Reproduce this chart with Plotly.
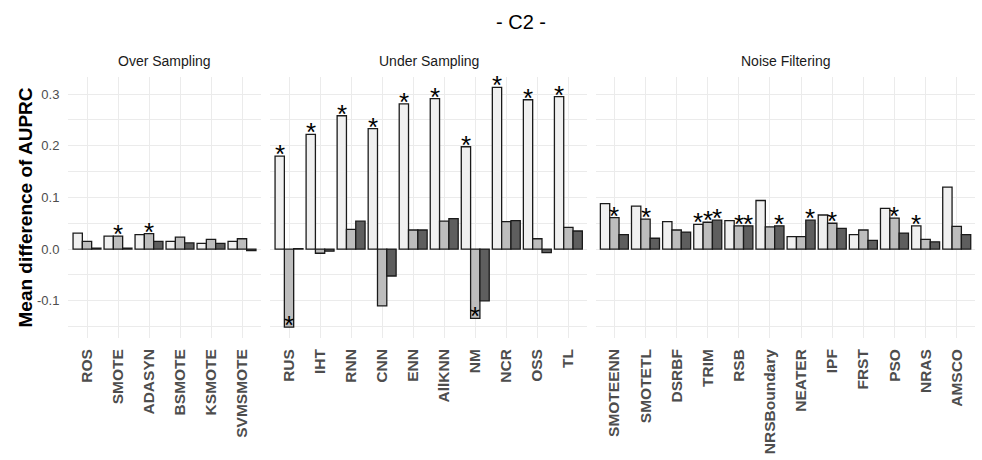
import plotly.graph_objects as go

# ---- data -------------------------------------------------------------
over_methods = ["ROS", "SMOTE", "ADASYN", "BSMOTE", "KSMOTE", "SVMSMOTE"]
over_v1 = [0.031, 0.025, 0.028, 0.015, 0.011, 0.015]
over_v2 = [0.015, 0.025, 0.030, 0.023, 0.019, 0.020]
over_v3 = [0.002, 0.002, 0.015, 0.012, 0.011, -0.003]
over_s1 = [0, 0, 0, 0, 0, 0]
over_s2 = [0, 1, 1, 0, 0, 0]
over_s3 = [0, 0, 0, 0, 0, 0]

under_methods = ["RUS", "IHT", "RNN", "CNN", "ENN", "AllKNN", "NM", "NCR", "OSS", "TL"]
under_v1 = [0.180, 0.222, 0.258, 0.233, 0.281, 0.291, 0.198, 0.313, 0.289, 0.295]
under_v2 = [-0.151, -0.008, 0.038, -0.110, 0.037, 0.054, -0.134, 0.053, 0.020, 0.042]
under_v3 = [0.001, -0.004, 0.054, -0.052, 0.037, 0.059, -0.100, 0.055, -0.007, 0.035]
under_s1 = [1, 1, 1, 1, 1, 1, 1, 1, 1, 1]
under_s2 = [1, 0, 0, 0, 0, 0, 1, 0, 0, 0]
under_s3 = [0, 0, 0, 0, 0, 0, 0, 0, 0, 0]

noise_methods = ["SMOTEENN", "SMOTETL", "DSRBF", "TRIM", "RSB", "NRSBoundary",
                 "NEATER", "IPF", "FRST", "PSO", "NRAS", "AMSCO"]
noise_v1 = [0.088, 0.083, 0.053, 0.048, 0.055, 0.094, 0.024, 0.066, 0.028, 0.079, 0.045, 0.120]
noise_v2 = [0.061, 0.058, 0.037, 0.052, 0.045, 0.043, 0.024, 0.050, 0.037, 0.060, 0.019, 0.044]
noise_v3 = [0.028, 0.021, 0.033, 0.056, 0.045, 0.045, 0.056, 0.040, 0.017, 0.031, 0.014, 0.028]
noise_s1 = [0, 0, 0, 1, 0, 0, 0, 0, 0, 0, 1, 0]
noise_s2 = [1, 1, 0, 1, 1, 0, 0, 1, 0, 1, 0, 0]
noise_s3 = [0, 0, 0, 1, 1, 1, 1, 0, 0, 0, 0, 0]

panel_titles = ["Over Sampling", "Under Sampling", "Noise Filtering"]
y_ticks = [-0.1, 0.0, 0.1, 0.2, 0.3]
y_tick_text = ["-0.1", "0.0", "0.1", "0.2", "0.3"]

# ---- styling ------------------------------------------------------------
W, H = 982, 460
FONT = "Liberation Sans, Arial"
fills = ["#F0F0F0", "#BDBDBD", "#5E5E5E"]
bar_w = 0.3
offsets = [-0.3, 0.0, 0.3]
grid_col = "#EBEBEB"
# panel extents in pixels (left, right); plot band top/bottom in pixels
panel_px = [(68.4, 260.6), (270.4, 587.0), (595.7, 975.4)]
top_px, bot_px = 77, 338
y_dom = [(H - bot_px) / H, (H - top_px) / H]
y_range = [-0.172, 0.333]

panels = [
    (over_methods, [over_v1, over_v2, over_v3], [over_s1, over_s2, over_s3]),
    (under_methods, [under_v1, under_v2, under_v3], [under_s1, under_s2, under_s3]),
    (noise_methods, [noise_v1, noise_v2, noise_v3], [noise_s1, noise_s2, noise_s3]),
]

fig = go.Figure()
layout = {}
annotations = []

for p, (methods, series, stars) in enumerate(panels):
    xa = "x" if p == 0 else f"x{p + 1}"
    ya = "y" if p == 0 else f"y{p + 1}"
    idx = list(range(len(methods)))
    for k in range(3):
        xs = [i + offsets[k] for i in idx]
        fig.add_trace(go.Bar(
            x=xs, y=series[k], width=bar_w, xaxis=xa, yaxis=ya,
            marker=dict(color=fills[k], line=dict(color="#1A1A1A", width=1.3)),
            showlegend=False, hoverinfo="skip",
        ))
        # significance marks sit on the end of their bar
        for i in idx:
            if stars[k][i]:
                annotations.append(dict(
                    x=xs[i], y=series[k][i], xref=xa, yref=ya, text="*",
                    showarrow=False, xanchor="center", yanchor="middle", yshift=2,
                    font=dict(family=FONT, size=26, color="#000000"),
                ))

    l, r = panel_px[p]
    n = len(methods)
    layout["xaxis" if p == 0 else f"xaxis{p + 1}"] = dict(
        domain=[l / W, r / W], anchor=ya, range=[-0.6, n - 1 + 0.6],
        tickmode="array", tickvals=idx, ticktext=methods, tickangle=-90,
        showgrid=True, gridcolor=grid_col, gridwidth=1, zeroline=False,
        showline=False, ticks="", ticklabelstandoff=7,
        tickfont=dict(family=FONT, size=15.5, color="#4D4D4D", weight="bold"),
        automargin=False, fixedrange=True,
    )
    layout["yaxis" if p == 0 else f"yaxis{p + 1}"] = dict(
        domain=y_dom, anchor=xa, range=y_range,
        tickmode="array", tickvals=y_ticks, ticktext=y_tick_text,
        showticklabels=(p == 0), showgrid=True, gridcolor=grid_col, gridwidth=1,
        minor=dict(tickmode="array", tickvals=[-0.15, -0.05, 0.05, 0.15, 0.25],
                   showgrid=True, gridcolor=grid_col, gridwidth=1),
        zeroline=False, showline=False, ticks="", ticklabelstandoff=8,
        tickfont=dict(family=FONT, size=13, color="#4D4D4D"),
        automargin=False, fixedrange=True,
    )
    annotations.append(dict(
        text=panel_titles[p], xref="paper", yref="paper",
        x=(l + r) / 2 / W, y=(H - 61) / H, xanchor="center", yanchor="middle",
        showarrow=False, font=dict(family=FONT, size=14, color="#1A1A1A"),
    ))

annotations.append(dict(
    text="Mean difference of AUPRC", xref="paper", yref="paper",
    x=25 / W, y=(H - (top_px + bot_px) / 2) / H, xanchor="center", yanchor="middle",
    textangle=-90, showarrow=False,
    font=dict(family=FONT, size=19, color="#000000", weight="bold"),
))
annotations.append(dict(
    text="- C2 -", xref="paper", yref="paper",
    x=521 / W, y=(H - 22) / H, xanchor="center", yanchor="middle",
    showarrow=False, font=dict(family=FONT, size=20, color="#000000"),
))

fig.update_layout(
    width=W, height=H, margin=dict(l=0, r=0, t=0, b=0),
    paper_bgcolor="white", plot_bgcolor="white",
    barmode="overlay", showlegend=False, annotations=annotations,
    **layout,
)

fig.write_html("out.html", config={"displayModeBar": False})
